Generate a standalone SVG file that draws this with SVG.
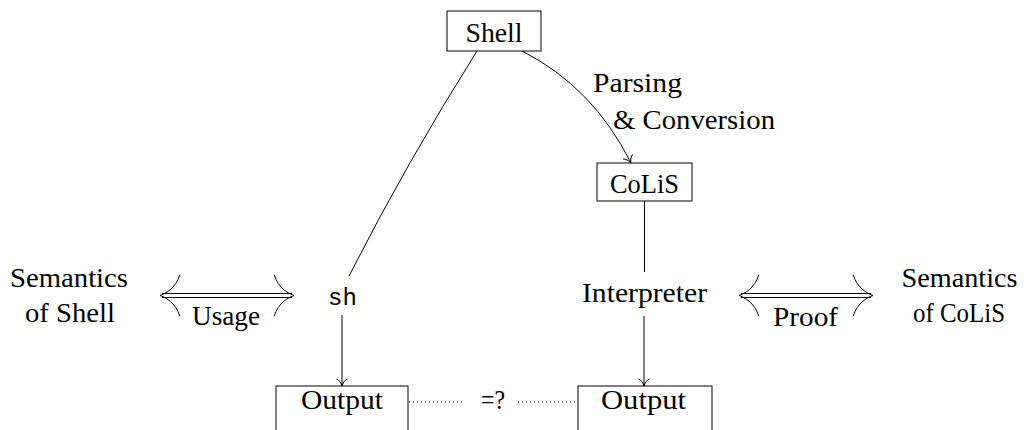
<svg xmlns="http://www.w3.org/2000/svg" xmlns:xlink="http://www.w3.org/1999/xlink" width="1026" height="430" viewBox="0 0 1026 430">
<style>
.box{fill:#fff;stroke:#000;stroke-width:1}
.t{font-family:"Liberation Serif","Times New Roman",serif;font-size:27px;fill:#000;text-anchor:middle}
.ts{text-anchor:start}
.m{font-family:"Liberation Mono","Courier New",monospace;font-size:24px;fill:#000;text-anchor:middle}
.ln{fill:none;stroke:#000;stroke-width:1}
.dot{fill:none;stroke:#000;stroke-width:1;stroke-dasharray:1 3}
</style>
<defs>
<marker id="to" markerUnits="userSpaceOnUse" orient="auto" refX="0" refY="0" markerWidth="20" markerHeight="20" viewBox="-10 -10 20 20" overflow="visible">
<path d="M -7,-5.5 C -6.5,-3 -2.5,-0.6 0,0 C -2.5,0.6 -6.5,3 -7,5.5" fill="none" stroke="#000" stroke-width="1"/>
</marker>
<path id="imp" d="M -19.85,-20.8 C -15.75,-6.93 -4.73,-1.58 0,0 C -4.73,1.58 -15.75,6.93 -19.85,20.8" fill="none" stroke="#000" stroke-width="1"/>
</defs>
<g id="connectors">
<path class="ln" d="M 477,51 Q 407,162 349,276"/>
<path class="ln" d="M 522,51 Q 593,87 631,163" marker-end="url(#to)"/>
<line class="ln" x1="644.5" y1="201" x2="644.5" y2="272"/>
<line class="ln" x1="342" y1="315" x2="342" y2="386" marker-end="url(#to)"/>
<line class="ln" x1="644" y1="316" x2="644" y2="386" marker-end="url(#to)"/>
<line class="dot" x1="409" y1="402" x2="463" y2="402"/>
<line class="dot" x1="518" y1="402" x2="577" y2="402"/>
<g id="usage-arrow">
<line class="ln" x1="162" y1="293.5" x2="292" y2="293.5"/>
<line class="ln" x1="162" y1="297.5" x2="292" y2="297.5"/>
<use xlink:href="#imp" href="#imp" transform="translate(294,295.5)"/>
<use xlink:href="#imp" href="#imp" transform="translate(160,295.5) scale(-1,1)"/>
</g>
<g id="proof-arrow">
<line class="ln" x1="741" y1="293.5" x2="871" y2="293.5"/>
<line class="ln" x1="741" y1="297.5" x2="871" y2="297.5"/>
<use xlink:href="#imp" href="#imp" transform="translate(873,295.5)"/>
<use xlink:href="#imp" href="#imp" transform="translate(739,295.5) scale(-1,1)"/>
</g>
</g>
<g id="labels">
<text class="t ts" x="593" y="92" textLength="89" lengthAdjust="spacingAndGlyphs">Parsing</text>
<text class="t ts" x="613" y="129" textLength="162" lengthAdjust="spacingAndGlyphs">&amp; Conversion</text>
<text class="t" x="226" y="325" textLength="68" lengthAdjust="spacingAndGlyphs">Usage</text>
<text class="t" x="805.5" y="326" textLength="65" lengthAdjust="spacingAndGlyphs">Proof</text>
<text class="t" x="493" y="409" textLength="24" lengthAdjust="spacingAndGlyphs">=?</text>
</g>
<g id="node-shell">
<rect class="box" x="447" y="11" width="94" height="40"/>
<text class="t" x="494" y="42" textLength="57" lengthAdjust="spacingAndGlyphs">Shell</text>
</g>
<g id="node-colis">
<rect class="box" x="597" y="163" width="95" height="38"/>
<text class="t" x="644.5" y="193" textLength="69" lengthAdjust="spacingAndGlyphs">CoLiS</text>
</g>
<g id="node-sh">
<text class="m" x="342.5" y="305">sh</text>
</g>
<g id="node-interpreter">
<text class="t" x="644.5" y="302" textLength="125" lengthAdjust="spacingAndGlyphs">Interpreter</text>
</g>
<g id="node-sem-shell">
<text class="t" x="69" y="287" textLength="118" lengthAdjust="spacingAndGlyphs">Semantics</text>
<text class="t" x="70" y="322" textLength="90" lengthAdjust="spacingAndGlyphs">of Shell</text>
</g>
<g id="node-sem-colis">
<text class="t" x="959.5" y="287" textLength="116" lengthAdjust="spacingAndGlyphs">Semantics</text>
<text class="t" x="959" y="322" textLength="92" lengthAdjust="spacingAndGlyphs">of CoLiS</text>
</g>
<g id="node-output-left">
<rect class="box" x="276" y="386" width="132" height="60"/>
<text class="t" x="342" y="409" textLength="82" lengthAdjust="spacingAndGlyphs">Output</text>
</g>
<g id="node-output-right">
<rect class="box" x="578" y="386" width="134" height="60"/>
<text class="t" x="643.5" y="409" textLength="85" lengthAdjust="spacingAndGlyphs">Output</text>
</g>
</svg>
